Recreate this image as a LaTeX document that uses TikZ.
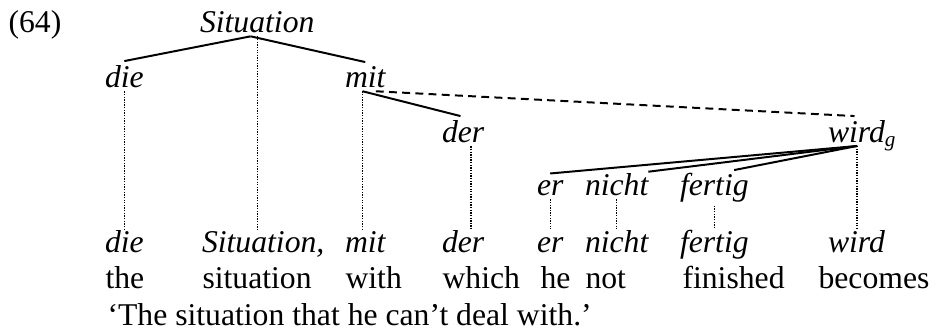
\documentclass[tikz,border=0pt]{standalone}
\usepackage{fontspec}
\setmainfont{Liberation Serif}

\begin{document}
\begin{tikzpicture}[x=0.3788pt,y=-0.3788pt,
  font=\fontsize{12}{14}\selectfont,
  wd/.style={anchor=base west,inner sep=0pt,outer xsep=0pt,outer ysep=1.5pt,font=\fontsize{12}{14}\selectfont\itshape},
  wdrow/.style={wd,outer ysep=0.5pt},
  gl/.style={anchor=base west,inner sep=0pt},
  dep/.style={line width=0.75pt},
  proj/.style={line width=0.5pt,dash pattern=on 0.5pt off 0.5pt}]

\useasboundingbox (0,0) rectangle (939,333);

\node[gl] (num) at (8,32) {(64)};

% dependency tree
\node[wd] (sit) at (200,32) {Situation};
\node[wd] (die1) at (105,87) {die};
\node[wd] (mit1) at (345,87) {mit};
\node[wd] (der1) at (442,142) {der};
\node[wd] (wird1) at (828,142) {wird\textsubscript{g}};
\node[wd] (er1) at (537,195) {er};
\node[wd] (nicht1) at (585,195) {nicht};
\node[wd] (fertig1) at (680,195) {fertig};

% sentence
\node[wdrow] (die2) at (105,252) {die};
\node[wdrow] (sit2) at (202,252) {Situation,};
\node[wdrow] (mit2) at (345,252) {mit};
\node[wdrow] (der2) at (442,252) {der};
\node[wdrow] (er2) at (537,252) {er};
\node[wdrow] (nicht2) at (585,252) {nicht};
\node[wdrow] (fertig2) at (680,252) {fertig};
\node[wdrow] (wird2) at (828,252) {wird};

% glosses
\node[gl] (the) at (105,288) {the};
\node[gl] (situation) at (202,288) {situation};
\node[gl] (with) at (345,288) {with};
\node[gl] (which) at (442,288) {which};
\node[gl] (he) at (540,288) {he};
\node[gl] (not) at (585,288) {not};
\node[gl] (finished) at (682,288) {finished};
\node[gl] (becomes) at (818,288) {becomes};

\node[gl] (trans) at (107,325) {‘The situation that he can’t deal with.’};

\coordinate (top) at ([xshift=-2.5pt]sit.south);
\coordinate (wg) at ([xshift=-2pt,yshift=-1.5pt]wird1.base);

% dependencies
\draw[dep] (top) -- (die1.north);
\draw[dep] (top) -- (mit1.north);
\draw[dep] ([xshift=-1pt]mit1.south) -- ([xshift=-1pt]der1.north);
\draw[dep,dash pattern=on 3pt off 2pt] ([xshift=4pt]mit1.south) -- ([xshift=-3pt]wird1.north);
\draw[dep] (wg) -- ([yshift=1pt]er1.north);
\draw[dep] (wg) -- ([xshift=0pt,yshift=-1pt]nicht1.north east);
\draw[dep] (wg) -- ([xshift=-5.5pt,yshift=-0.5pt]fertig1.north east);

% projections
\draw[proj] (sit.south) -- (sit.south |- sit2.north);
\draw[proj] (die1.south) -- (die2.north);
\draw[proj] ([xshift=-1pt]mit1.south) -- ([xshift=-1pt]mit2.north);
\draw[proj] ([xshift=3pt]der1.south) -- ([xshift=3pt]der2.north);
\draw[proj] (er1.south) -- (er1.south |- die2.north);
\draw[proj] (nicht1.south) -- (nicht2.north);
\draw[proj] (fertig1.south) -- (fertig2.north);
\draw[proj] (wg) -- (wg |- wird2.north);

\end{tikzpicture}
\end{document}
